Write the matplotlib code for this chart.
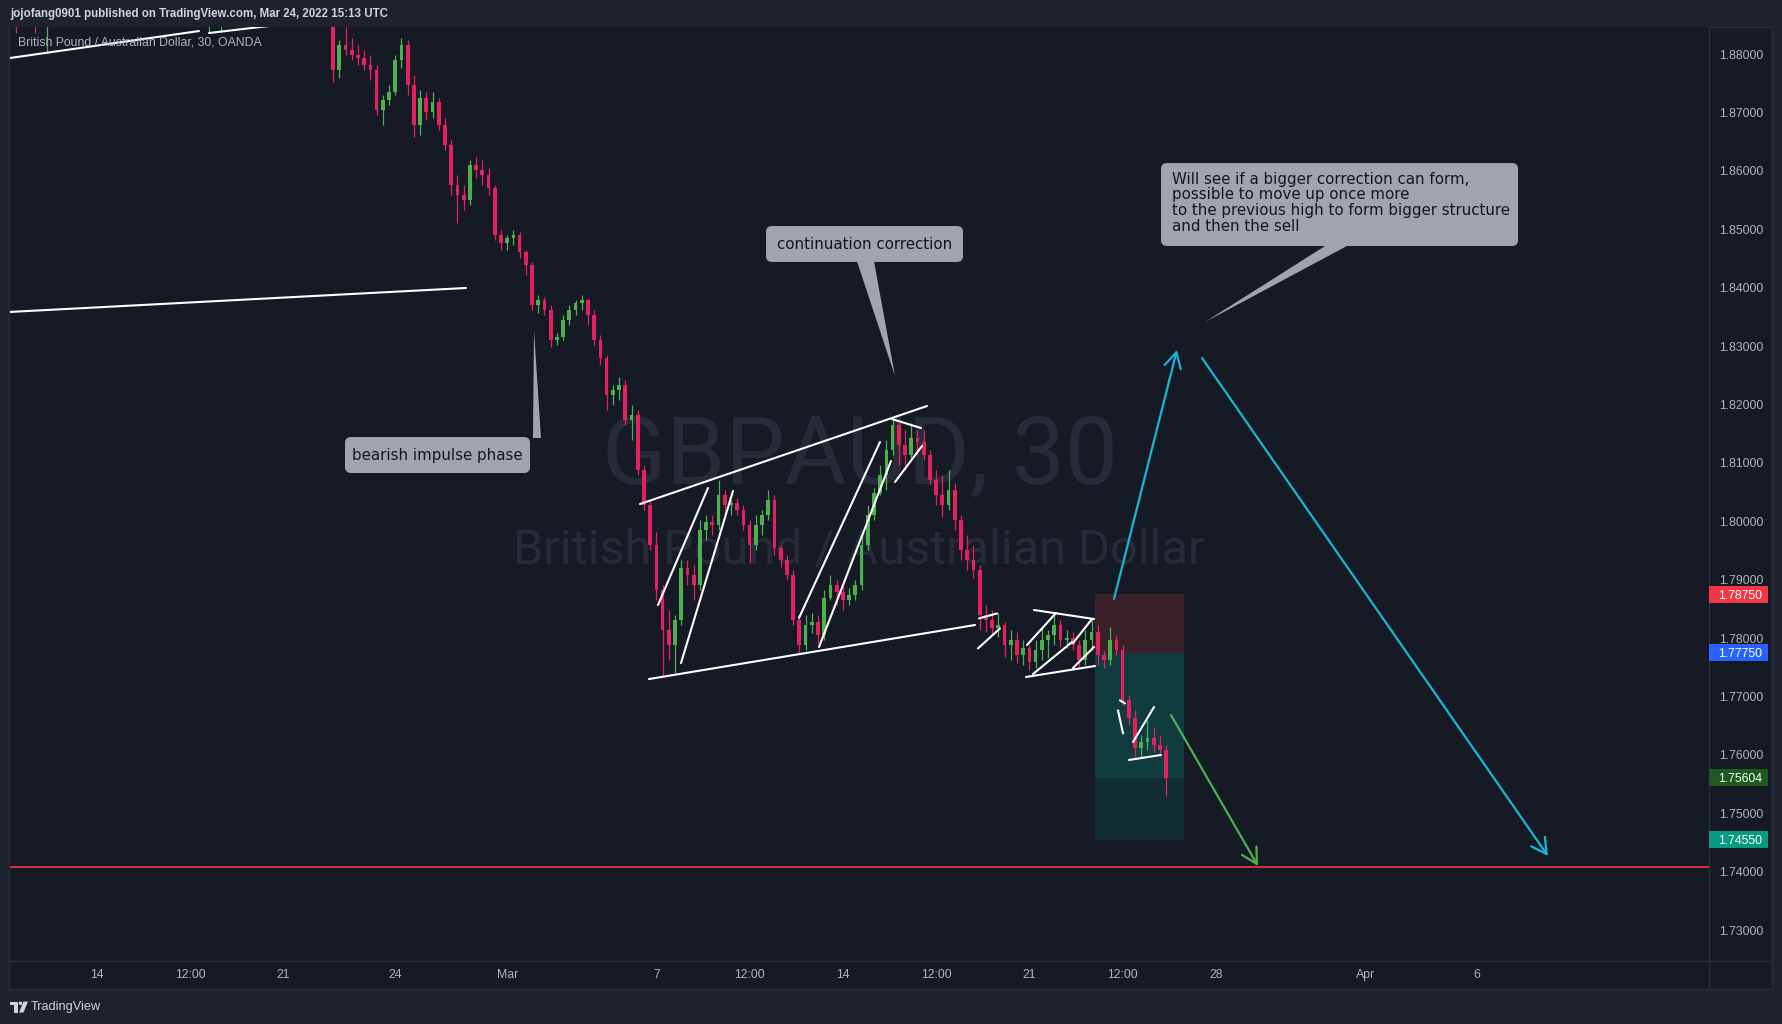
import numpy as np
import matplotlib
matplotlib.use('Agg')
import matplotlib.pyplot as plt
import matplotlib.transforms as mtransforms
from matplotlib.patches import Rectangle, FancyBboxPatch, Polygon, Circle

plt.rcParams['font.family'] = ['Liberation Sans', 'DejaVu Sans']

bar_start_day = 6.33          # trading-day index of first candle (Feb 14 = 0)
bar_step_day = 1.0 / 6.0      # 4-hour candles

opens = [1.8867, 1.8773, 1.8815, 1.8807, 1.8798, 1.8793, 1.8781, 1.8773, 1.8704, 1.8721,
         1.8735, 1.8790, 1.8815, 1.8747, 1.8679, 1.8725, 1.8701, 1.8718, 1.8679, 1.8644,
         1.8576, 1.8559, 1.8550, 1.8610, 1.8601, 1.8593, 1.8571, 1.8490, 1.8476, 1.8485,
         1.8490, 1.8461, 1.8439, 1.8370, 1.8379, 1.8361, 1.8310, 1.8315, 1.8344, 1.8361,
         1.8373, 1.8379, 1.8353, 1.8310, 1.8280, 1.8216, 1.8224, 1.8233, 1.8173, 1.8182,
         1.8088, 1.8028, 1.7959, 1.7882, 1.7814, 1.7788, 1.7831, 1.7920, 1.7908, 1.7891,
         1.7985, 1.7999, 1.7994, 1.8045, 1.8028, 1.8031, 1.8019, 1.7994, 1.7959, 1.7994,
         1.8011, 1.8036, 1.7954, 1.7934, 1.7908, 1.7831, 1.7788, 1.7822, 1.7827, 1.7805,
         1.7869, 1.7891, 1.7879, 1.7865, 1.7874, 1.7891, 1.7959, 1.8011, 1.8048, 1.8079,
         1.8122, 1.8165, 1.8130, 1.8113, 1.8142, 1.8135, 1.8113, 1.8071, 1.8045, 1.8028,
         1.8054, 1.8002, 1.7951, 1.7934, 1.7917, 1.7839, 1.7831, 1.7817, 1.7822, 1.7788,
         1.7797, 1.7771, 1.7783, 1.7759, 1.7780, 1.7797, 1.7805, 1.7822, 1.7797, 1.7800,
         1.7788, 1.7762, 1.7797, 1.7811, 1.7771, 1.7762, 1.7797, 1.7780, 1.7694, 1.7663,
         1.7612, 1.7622, 1.7629, 1.7617, 1.7608]
highs = [1.8875, 1.8824, 1.8846, 1.8827, 1.8815, 1.8807, 1.8798, 1.8781, 1.8730, 1.8747,
         1.8798, 1.8827, 1.8824, 1.8764, 1.8738, 1.8735, 1.8735, 1.8725, 1.8690, 1.8653,
         1.8593, 1.8576, 1.8619, 1.8624, 1.8619, 1.8605, 1.8576, 1.8499, 1.8490, 1.8499,
         1.8495, 1.8465, 1.8444, 1.8387, 1.8384, 1.8370, 1.8322, 1.8353, 1.8370, 1.8379,
         1.8387, 1.8382, 1.8361, 1.8319, 1.8285, 1.8233, 1.8247, 1.8242, 1.8199, 1.8190,
         1.8096, 1.8036, 1.7982, 1.7891, 1.7848, 1.7840, 1.7934, 1.7934, 1.7925, 1.8002,
         1.8011, 1.8011, 1.8071, 1.8054, 1.8036, 1.8040, 1.8028, 1.8002, 1.8011, 1.8019,
         1.8054, 1.8045, 1.7959, 1.7942, 1.7917, 1.7839, 1.7839, 1.7843, 1.7839, 1.7882,
         1.7908, 1.7899, 1.7891, 1.7886, 1.7899, 1.7976, 1.8028, 1.8057, 1.8096, 1.8139,
         1.8177, 1.8173, 1.8156, 1.8168, 1.8156, 1.8156, 1.8122, 1.8088, 1.8079, 1.8088,
         1.8066, 1.8011, 1.7976, 1.7959, 1.7925, 1.7857, 1.7848, 1.7843, 1.7828, 1.7814,
         1.7811, 1.7797, 1.7788, 1.7797, 1.7819, 1.7814, 1.7843, 1.7831, 1.7814, 1.7811,
         1.7797, 1.7814, 1.7831, 1.7822, 1.7780, 1.7819, 1.7805, 1.7788, 1.7702, 1.7677,
         1.7634, 1.7660, 1.7648, 1.7634, 1.7617]
lows = [1.8752, 1.8759, 1.8798, 1.8790, 1.8781, 1.8773, 1.8756, 1.8696, 1.8679, 1.8713,
        1.8730, 1.8776, 1.8730, 1.8658, 1.8661, 1.8687, 1.8690, 1.8670, 1.8636, 1.8559,
        1.8511, 1.8533, 1.8541, 1.8588, 1.8576, 1.8559, 1.8482, 1.8465, 1.8465, 1.8473,
        1.8451, 1.8422, 1.8361, 1.8356, 1.8353, 1.8298, 1.8302, 1.8310, 1.8336, 1.8353,
        1.8361, 1.8336, 1.8302, 1.8268, 1.8191, 1.8199, 1.8208, 1.8165, 1.8139, 1.8079,
        1.8019, 1.7951, 1.7865, 1.7733, 1.7762, 1.7740, 1.7822, 1.7891, 1.7865, 1.7882,
        1.7968, 1.7976, 1.7985, 1.8011, 1.8011, 1.8011, 1.7985, 1.7928, 1.7951, 1.7976,
        1.8002, 1.7942, 1.7922, 1.7899, 1.7822, 1.7774, 1.7780, 1.7809, 1.7792, 1.7797,
        1.7865, 1.7857, 1.7848, 1.7857, 1.7865, 1.7882, 1.7951, 1.8002, 1.8045, 1.8054,
        1.8113, 1.8096, 1.8088, 1.8105, 1.8113, 1.8105, 1.8062, 1.8028, 1.8007, 1.8019,
        1.7985, 1.7934, 1.7917, 1.7903, 1.7814, 1.7811, 1.7805, 1.7802, 1.7767, 1.7762,
        1.7757, 1.7754, 1.7745, 1.7749, 1.7762, 1.7766, 1.7788, 1.7785, 1.7783, 1.7780,
        1.7751, 1.7754, 1.7780, 1.7754, 1.7749, 1.7754, 1.7771, 1.7685, 1.7651, 1.7597,
        1.7597, 1.7608, 1.7605, 1.7597, 1.7530]
closes = [1.8773, 1.8815, 1.8807, 1.8798, 1.8793, 1.8781, 1.8773, 1.8704, 1.8721, 1.8735,
          1.8790, 1.8815, 1.8747, 1.8679, 1.8725, 1.8701, 1.8718, 1.8679, 1.8644, 1.8576,
          1.8559, 1.8550, 1.8610, 1.8601, 1.8593, 1.8571, 1.8490, 1.8476, 1.8485, 1.8490,
          1.8461, 1.8439, 1.8370, 1.8379, 1.8361, 1.8310, 1.8315, 1.8344, 1.8361, 1.8373,
          1.8379, 1.8353, 1.8310, 1.8280, 1.8216, 1.8224, 1.8233, 1.8173, 1.8182, 1.8088,
          1.8028, 1.7959, 1.7882, 1.7814, 1.7788, 1.7831, 1.7920, 1.7908, 1.7891, 1.7985,
          1.7999, 1.7994, 1.8045, 1.8028, 1.8031, 1.8019, 1.7994, 1.7959, 1.7994, 1.8011,
          1.8036, 1.7954, 1.7934, 1.7908, 1.7831, 1.7788, 1.7822, 1.7827, 1.7805, 1.7869,
          1.7891, 1.7879, 1.7865, 1.7874, 1.7891, 1.7959, 1.8011, 1.8048, 1.8079, 1.8122,
          1.8165, 1.8130, 1.8113, 1.8142, 1.8135, 1.8113, 1.8071, 1.8045, 1.8028, 1.8054,
          1.8002, 1.7951, 1.7934, 1.7917, 1.7839, 1.7831, 1.7817, 1.7822, 1.7788, 1.7797,
          1.7771, 1.7783, 1.7759, 1.7780, 1.7797, 1.7805, 1.7822, 1.7797, 1.7800, 1.7788,
          1.7762, 1.7797, 1.7811, 1.7771, 1.7762, 1.7797, 1.7780, 1.7694, 1.7663, 1.7612,
          1.7622, 1.7629, 1.7617, 1.7608, 1.75604]

# a few earlier candles that only poke into the top of the view
early_days = [-2.17, -1.67, -1.33, 3.0, 3.33]
early_opens = [1.8910, 1.8905, 1.8880, 1.8880, 1.8900]
early_highs = [1.8950, 1.8940, 1.8930, 1.8930, 1.8940]
early_lows = [1.8836, 1.8836, 1.8801, 1.8836, 1.8838]
early_closes = [1.8885, 1.8890, 1.8895, 1.8900, 1.8910]

price_ticks = [1.73, 1.74, 1.75, 1.76, 1.77, 1.78, 1.79, 1.80, 1.81, 1.82, 1.83, 1.84, 1.85, 1.86, 1.87, 1.88]
time_tick_pos = [0, 2.5, 5, 8, 11, 15, 17.5, 20, 22.5, 25, 27.5, 30, 34, 37]
time_tick_labels = ['14', '12:00', '21', '24', 'Mar', '7', '12:00', '14', '12:00', '21', '12:00', '28', 'Apr', '6']

stop_price = 1.7875
entry_price = 1.7775
last_price = 1.75604
target_price = 1.7455
support_price = 1.7408
badge_prices = [1.7875, 1.7775, 1.75604, 1.7455]
badge_labels = ['1.78750', '1.77750', '1.75604', '1.74550']

# ---------------- styling ----------------
W, H = 1783, 1024
BG_OUT = '#1e222d'
BG = '#161a25'
LINE = '#2a2e39'
TXT = '#b2b5be'
UP = '#4caf50'
DN = '#e3215f'
CALLOUT = '#a1a4ad'
CYAN = '#16b6d6'

fig = plt.figure(figsize=(W / 100, H / 100), dpi=100, facecolor=BG_OUT)

# pixel-space background layer
bg = fig.add_axes([0, 0, 1, 1], zorder=0)
bg.set_xlim(0, W)
bg.set_ylim(H, 0)
bg.axis('off')
bg.add_patch(Rectangle((9.5, 26.5), 1763, 962, facecolor=BG, edgecolor=LINE, lw=1))
bg.plot([1709.5, 1709.5], [26.5, 988], color=LINE, lw=1)
bg.plot([10, 1772], [960.5, 960.5], color=LINE, lw=1)
bg.text(10, 13.5, 'jojofang0901 published on TradingView.com, Mar 24, 2022 15:13 UTC',
        color='#d1d4dc', fontsize=8.3, fontweight='bold', va='center', ha='left')
# TradingView logo + wordmark
logo_c = '#d1d4dc'
bg.add_patch(Polygon([(10, 1001.5), (18, 1001.5), (18, 1012.5), (14, 1012.5), (14, 1005), (10, 1005)],
                     closed=True, fc=logo_c, ec='none'))
bg.add_patch(Circle((20.5, 1003.3), 1.8, fc=logo_c, ec='none'))
bg.add_patch(Polygon([(19, 1012.5), (23.5, 1001.5), (28, 1001.5), (23.5, 1012.5)], closed=True, fc=logo_c, ec='none'))
bg.text(31, 1007, 'TradingView', color='#d1d4dc', fontsize=9.2, va='center', ha='left')

# main price axes
ax = fig.add_axes([10 / W, (H - 960) / H, 1699 / W, 933 / H], zorder=1)
ax.set_facecolor(BG)
xmin, xmax = -2.332, 43.217
ymin, ymax = 1.72487, 1.88463
ax.set_xlim(xmin, xmax)
ax.set_ylim(ymin, ymax)
for s in ax.spines.values():
    s.set_visible(False)
ax.yaxis.tick_right()
ax.set_yticks(price_ticks)
ax.set_yticklabels([f'{p:.5f}' for p in price_ticks])
ax.tick_params(axis='y', length=0, pad=7.6, labelsize=8.8, labelcolor=TXT)
ax.set_xticks(time_tick_pos)
ax.set_xticklabels(time_tick_labels)
ax.tick_params(axis='x', length=0, pad=6.5, labelsize=8.8, labelcolor=TXT)

xpp = (xmax - xmin) / 1699.0
ypp = (ymax - ymin) / 933.0

# watermark
ax.text(0.5003, 0.5113, 'GBPAUD, 30', transform=ax.transAxes, ha='center', va='baseline',
        fontsize=68, color='#272b37', family=['Roboto', 'DejaVu Sans'], zorder=0.5)
ax.text(0.4997, 0.4255, 'British Pound / Australian Dollar', transform=ax.transAxes, ha='center',
        va='baseline', fontsize=35, color='#272b37', family=['Roboto', 'DejaVu Sans'], zorder=0.5)
ax.text(8 / 1699, 1 - 15.5 / 933, 'British Pound / Australian Dollar, 30, OANDA',
        transform=ax.transAxes, ha='left', va='center', fontsize=8.8, color=TXT, zorder=6)

# position tool
pos_x0, pos_x1 = 26.76, 29.14
ax.add_patch(Rectangle((pos_x0, entry_price), pos_x1 - pos_x0, stop_price - entry_price,
                       fc='#3a2129', ec='none', zorder=1))
ax.add_patch(Rectangle((pos_x0, last_price), pos_x1 - pos_x0, entry_price - last_price,
                       fc='#103c3f', ec='none', zorder=1))
ax.add_patch(Rectangle((pos_x0, target_price), pos_x1 - pos_x0, last_price - target_price,
                       fc='#122c33', ec='none', zorder=1))

# candles
def draw_candles(t, o, h, l, c, width):
    o, h, l, c = map(np.asarray, (o, h, l, c))
    cols = [UP if cc >= oo else DN for oo, cc in zip(o, c)]
    ax.vlines(t, l, h, colors=cols, lw=0.9, zorder=3)
    body = np.maximum(np.abs(c - o), 0.00012)
    ax.bar(t, body, bottom=np.minimum(o, c), width=width, color=cols, linewidth=0, zorder=3)

t_main = bar_start_day + bar_step_day * np.arange(len(closes))
draw_candles(t_main, opens, highs, lows, closes, 0.1)
draw_candles(np.array(early_days), early_opens, early_highs, early_lows, early_closes, 0.1)

# support line
ax.axhline(support_price, color='#f23645', lw=1.2, zorder=2)

# white trend / structure lines (day index, price)
white_segments = [
    ((-2.332, 1.87932), (2.735, 1.88394)),
    ((3.003, 1.88360), (5.174, 1.88523)),
    ((-2.359, 1.83583), (9.893, 1.83994)),
    ((14.558, 1.80295), (22.252, 1.81973)),
    ((14.799, 1.77298), (23.539, 1.78223)),
    ((15.040, 1.78566), (16.381, 1.80569)),
    ((15.657, 1.77572), (17.051, 1.80518)),
    ((18.820, 1.78343), (20.992, 1.81357)),
    ((19.357, 1.77847), (21.287, 1.81031)),
    ((21.314, 1.81750), (22.091, 1.81596)),
    ((21.394, 1.80672), (22.118, 1.81288)),
    ((23.646, 1.78336), (24.129, 1.78421)),
    ((23.619, 1.77822), (24.209, 1.78165)),
    ((25.121, 1.78480), (26.729, 1.78326)),
    ((24.906, 1.77333), (26.756, 1.77521)),
    ((24.933, 1.77881), (25.710, 1.78429)),
    ((25.094, 1.77384), (26.139, 1.77932)),
    ((26.166, 1.77915), (26.676, 1.78326)),
    ((26.166, 1.77487), (26.729, 1.77847)),
    ((27.373, 1.76761), (27.507, 1.76367)),
    ((27.426, 1.76933), (27.560, 1.76881)),
    ((27.775, 1.76220), (28.338, 1.76819)),
    ((27.668, 1.75912), (28.525, 1.75998)),
]
for (x0, y0), (x1, y1) in white_segments:
    ax.plot([x0, x1], [y0, y1], color='white', lw=1.5, solid_capstyle='round', zorder=4)

# arrows
def arrow(tail, head, color):
    ax.annotate('', xy=head, xytext=tail, zorder=5,
                arrowprops=dict(arrowstyle='->,head_length=0.55,head_width=0.3', color=color,
                                lw=1.6, shrinkA=0, shrinkB=0, mutation_scale=20))

arrow((27.265, 1.78668), (28.954, 1.82932), CYAN)
arrow((29.625, 1.82795), (38.901, 1.74268), CYAN)
arrow((28.794, 1.76682), (31.126, 1.74097), '#4caf50')

# callouts
aspect = ypp / xpp

def callout(box, tri, text, tx, ty, ha='center'):
    x0, x1, y0, y1 = box
    ax.add_patch(Polygon(tri, closed=True, fc=CALLOUT, ec='none', zorder=6))
    ax.add_patch(FancyBboxPatch((x0, y0), x1 - x0, y1 - y0,
                                boxstyle=f'round,pad=0,rounding_size={6 * xpp}',
                                mutation_aspect=aspect, fc=CALLOUT, ec='none', zorder=6))
    ax.text(tx, ty, text, ha=ha, va='center', fontsize=10.8, color='#131722',
            family=['DejaVu Sans'], zorder=7, linespacing=1.08)

callout((6.649, 11.609, 1.80826, 1.81442),
        [(11.689, 1.81425), (11.903, 1.81425), (11.716, 1.83274)],
        'bearish impulse phase', 9.129, 1.81134)
callout((17.936, 23.217, 1.84440, 1.85055),
        [(20.375, 1.84450), (20.831, 1.84450), (21.394, 1.82487)],
        'continuation correction', 20.577, 1.84747)
callout((28.525, 38.097, 1.84713, 1.86134),
        [(32.949, 1.84723), (33.539, 1.84723), (29.705, 1.83411)],
        'Will see if a bigger correction can form,\npossible to move up once more\n'
        'to the previous high to form bigger structure\nand then the sell',
        28.820, 1.85450, ha='left')

# price badges on the axis
bt = mtransforms.blended_transform_factory(ax.transAxes, ax.transData)
badge_colors = ['#f23645', '#2962ff', '#1e5a1f', '#089981']
bw = 59 / 1699
bh = 17 * ypp
for p, lab, col in zip(badge_prices, badge_labels, badge_colors):
    ax.add_patch(Rectangle((1.0, p - bh / 2), bw, bh, transform=bt, fc=col, ec='none',
                           clip_on=False, zorder=8))
    ax.text(1.0 + 31 / 1699, p, lab, transform=bt, ha='center', va='center_baseline',
            fontsize=8.8, color='white', clip_on=False, zorder=9)

fig.savefig('out.png', dpi=100, facecolor=BG_OUT)
